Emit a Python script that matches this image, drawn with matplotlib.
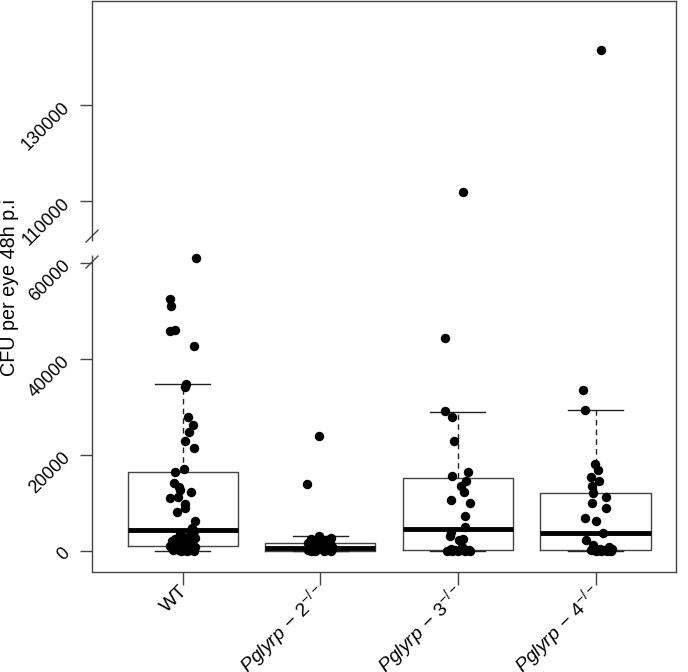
import matplotlib
matplotlib.use("Agg")
import matplotlib.pyplot as plt
import numpy as np

plt.rcParams["font.family"] = ["Liberation Sans", "DejaVu Sans"]
plt.rcParams["mathtext.fontset"] = "custom"
plt.rcParams["mathtext.rm"] = "Liberation Sans"
plt.rcParams["mathtext.it"] = "Liberation Sans:italic"

# groups and axis labels
groups = ["WT", "Pglyrp-2", "Pglyrp-3", "Pglyrp-4"]
xlabels = [r"WT",
           r"$\mathit{Pglyrp}\,-\,2^{-/-}$",
           r"$\mathit{Pglyrp}\,-\,3^{-/-}$",
           r"$\mathit{Pglyrp}\,-\,4^{-/-}$"]
ylabel = "CFU per eye 48h p.i"

# box statistics
q1 = [1040, 60, 200, 200]
med = [4375, 690, 4520, 3800]
q3 = [16400, 1730, 15140, 12020]
whislo = [60, 0, 0, 0]
whishi = [34860, 3060, 29020, 29440]

# points (CFU) and their horizontal jitter for each group
wt_vals = [61100, 52430, 51100, 45900, 46040, 42700, 34790, 34230, 27850,
           26180, 24730, 22850, 21400, 17150, 16400, 14230, 13400, 12700,
           12360, 11320, 10980, 9730, 8900, 8190, 6250, 4730,
           4200, 3600, 3300, 3000, 2700, 2500, 2300, 2100, 1900, 1700,
           1500, 1300, 1100, 950, 800, 700, 600, 500, 400, 300, 250, 200,
           150, 100, 80, 60]
wt_jit = [0.098, -0.096, -0.089, -0.096, -0.06, 0.078, 0.025, 0.018, 0.04,
          0.076, 0.047, 0.018, 0.084, 0.009, -0.055, -0.067, -0.031, -0.018,
          0.06, -0.033, -0.096, 0.018, 0.018, -0.042, 0.086, 0.067,
          0.08, -0.02, 0.05, 0.0, 0.09, -0.06, 0.03, -0.08, 0.07, 0.01,
          -0.04, 0.06, -0.09, 0.02, 0.09, -0.05, 0.04, -0.02, 0.07, -0.07,
          0.01, 0.05, -0.03, 0.08, -0.01, 0.03]

p2_vals = [23900, 13960, 3060, 2770, 2500, 2200, 2000, 1800, 1600, 1500,
           1300, 1100, 1000, 900, 800, 700, 650, 500, 400, 300, 250, 200,
           150, 100, 80, 50, 30]
p2_jit = [-0.01, -0.1, -0.01, 0.08, -0.07, 0.04, -0.03, 0.06, -0.09, 0.01,
          0.08, -0.05, 0.03, -0.08, 0.06, -0.02, 0.09, -0.06, 0.02, 0.07,
          -0.09, -0.03, 0.05, -0.07, 0.03, 0.08, -0.04]

p3_vals = [111730, 44370, 29170, 27980, 22980, 16520, 15620, 14580, 13610,
           12230, 10625, 10000, 7230, 5060, 3900, 3125, 2600, 2290, 800,
           400, 300, 200, 150, 100, 80, 50, 30, 0]
p3_jit = [0.036, -0.092, -0.092, -0.044, -0.031, 0.073, -0.046, 0.058,
          0.02, 0.046, -0.049, 0.087, 0.051, 0.049, -0.05, -0.058, 0.036,
          0.007, 0.03, -0.05, 0.06, -0.02, 0.08, -0.08, 0.0, 0.05, -0.04,
          0.09]

p4_vals = [141440, 33480, 29375, 18190, 16940, 15350, 14520, 13540, 12020,
           11250, 10060, 8960, 6875, 6250, 3690, 2290, 1250, 800, 500, 400,
           300, 200, 150, 100, 80, 50, 30]
p4_jit = [0.039, -0.092, -0.078, -0.002, 0.017, -0.031, 0.022, -0.027,
          -0.02, 0.078, -0.027, 0.073, -0.075, 0.0, 0.058, -0.067, -0.02,
          0.1, 0.03, 0.12, -0.03, 0.06, 0.09, 0.0, 0.11, 0.04, 0.08]

point_vals = [wt_vals, p2_vals, p3_vals, p4_vals]
point_jit = [wt_jit, p2_jit, p3_jit, p4_jit]

# axis break
gap_lo, gap_hi = 63000, 100000
shift = 37000
yticks = [0, 20000, 40000, 60000, 110000, 130000]


def squash(v):
    v = np.asarray(v, dtype=float)
    return np.where(v > gap_lo, v - shift, v)


fig = plt.figure(figsize=(6.88, 6.72), dpi=100)
ax = fig.add_axes([92 / 688, 1 - 571.7 / 672, 584 / 688, 570.7 / 672])

edge = "#444444"
stats = []
for i in range(len(groups)):
    stats.append(dict(med=med[i], q1=q1[i], q3=q3[i],
                      whislo=whislo[i], whishi=whishi[i], fliers=[]))

pos = np.arange(1, len(groups) + 1)
ax.bxp(stats, positions=pos, widths=0.8, showfliers=False,
       boxprops=dict(color=edge, lw=1.0),
       whiskerprops=dict(color="#222222", lw=1.0, ls=(0, (4, 3))),
       capprops=dict(color="#222222", lw=1.0),
       medianprops=dict(color="black", lw=3.5, solid_capstyle="butt"),
       capwidths=0.4)

for i in range(len(groups)):
    xs = pos[i] + np.asarray(point_jit[i])
    ax.plot(xs, squash(point_vals[i]), "o", color="black", ms=6.8,
            mew=0, zorder=5)

ax.set_xlim(0.34, 4.585)
ax.set_ylim(-4312, 114583)

for s in ["top", "right", "bottom"]:
    ax.spines[s].set_color(edge)
    ax.spines[s].set_linewidth(1.0)
ax.spines["left"].set_visible(False)

# left spine with break marks
ytr = ax.get_yaxis_transform()
lo_b, hi_b = 61600, 64600
ax.plot([0, 0], [-4312, lo_b], color=edge, lw=1.0, transform=ytr,
        clip_on=False, solid_capstyle="butt")
ax.plot([0, 0], [hi_b, 114583], color=edge, lw=1.0, transform=ytr,
        clip_on=False, solid_capstyle="butt")
dx = 6 / 584
dy = 6 * 20000 / 96
for yb in [lo_b - 1400, hi_b + 1000]:
    ax.plot([-dx, dx], [yb - dy, yb + dy], color=edge, lw=1.0,
            transform=ytr, clip_on=False)

ax.set_yticks(squash(yticks))
ax.set_yticklabels([str(t) for t in yticks], rotation=45, fontsize=13,
                   rotation_mode="anchor", ha="right", va="center")
ax.tick_params(axis="y", length=8.6, width=1.0, color=edge, pad=9)

ax.set_xticks(pos)
ax.set_xticklabels([])
ax.tick_params(axis="x", length=9, width=1.0, color=edge)
xtr = ax.get_xaxis_transform()
for i, lab in enumerate(xlabels):
    ax.text(pos[i] + 0.02, -0.03, lab, transform=xtr, rotation=45,
            rotation_mode="anchor", ha="right", va="center", fontsize=14)

fig.text(10 / 688, 1 - 288 / 672, ylabel, rotation=90, ha="center",
         va="center", fontsize=14.2)

fig.savefig("out.png", dpi=100)
